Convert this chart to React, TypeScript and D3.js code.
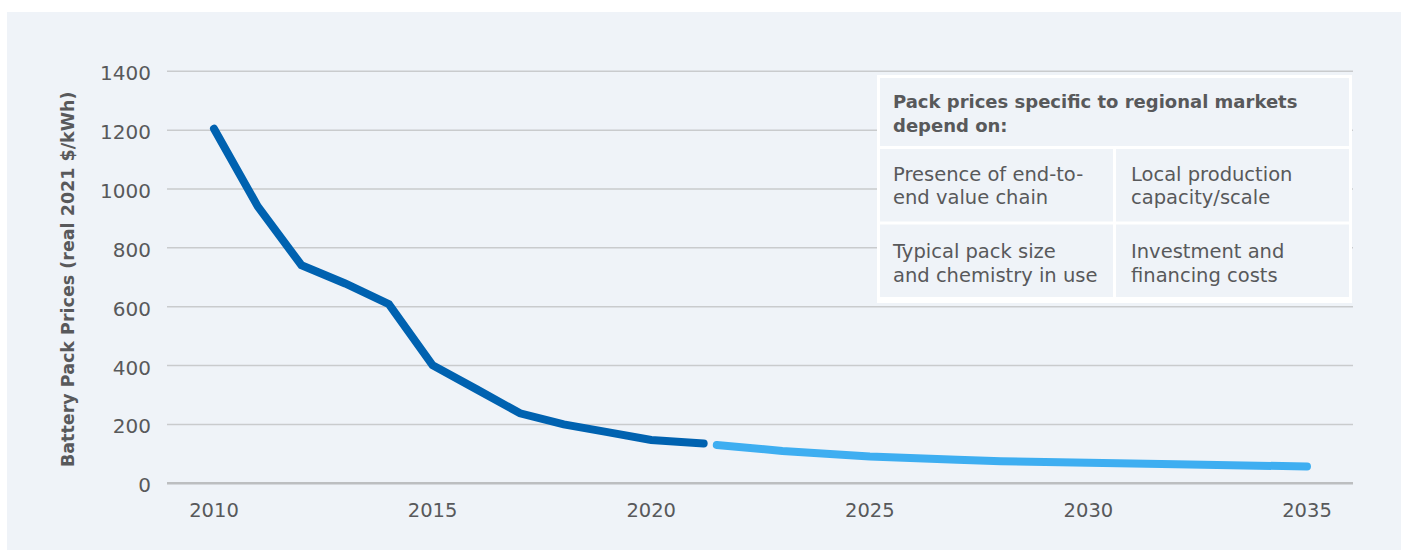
import React from "react";
import * as d3 from "d3";

const historicYears = [2010, 2011, 2012, 2013, 2014, 2015, 2016, 2017, 2018, 2019, 2020, 2021.2];
const historicPrices = [1205, 941, 741, 679, 609, 401, 320, 238, 200, 174, 147, 135];

const outlookYears = [2021.5, 2023, 2025, 2027, 2028, 2030, 2032, 2035];
const outlookPrices = [130, 110, 91, 80, 75, 70, 65, 57];

const yTicks = [0, 200, 400, 600, 800, 1000, 1200, 1400];
const xTicks = [2010, 2015, 2020, 2025, 2030, 2035];

const yTitle = "Battery Pack Prices (real 2021 $/kWh)";
const boxTitle = ["Pack prices specific to regional markets", "depend on:"];
const boxCells = [
  ["Presence of end-to-", "end value chain"],
  ["Local production", "capacity/scale"],
  ["Typical pack size", "and chemistry in use"],
  ["Investment and", "financing costs"],
];

const W = 1407;
const H = 550;
const textColor = "#58595b";
const bg = "#eff3f8";
const font = "'DejaVu Sans', sans-serif";

export default function App() {
  const x = d3.scaleLinear().domain([2010, 2035]).range([214, 1307]);
  const y = d3.scaleLinear().domain([0, 1400]).range([483.3, 71.3]);

  const line = d3
    .line<[number, number]>()
    .x((d) => x(d[0]))
    .y((d) => y(d[1]));

  const histPath = line(historicYears.map((yr, i) => [yr, historicPrices[i]]));
  const outPath = line(outlookYears.map((yr, i) => [yr, outlookPrices[i]]));

  const gridX0 = 167;
  const gridX1 = 1353;

  // box geometry
  const bx = 877, by = 75, bw = 475, bh = 228, gap = 3;
  const headH = 71;
  const rowH = (bh - headH - gap * 4) / 2;
  const colW = (bw - gap * 3) / 2;

  return (
    <svg width={W} height={H} style={{ position: "absolute", left: 0, top: 0, background: "#fff" }}>
      <rect x={7} y={12} width={1394} height={538} fill={bg} />

      {yTicks.map((t) => (
        <g key={t}>
          <line
            x1={gridX0}
            x2={gridX1}
            y1={y(t)}
            y2={y(t)}
            stroke={t === 0 ? "#bcbec0" : "#c9cbcd"}
            strokeWidth={t === 0 ? 2.5 : 1.5}
          />
          <text
            x={151}
            y={y(t) + 9}
            textAnchor="end"
            fontFamily={font}
            fontSize={20}
            fill={textColor}
          >
            {t}
          </text>
        </g>
      ))}

      {xTicks.map((t) => (
        <text
          key={t}
          x={x(t)}
          y={516.7}
          textAnchor="middle"
          fontFamily={font}
          fontSize={19.5}
          fill={textColor}
        >
          {t}
        </text>
      ))}

      <text
        transform={`translate(74, ${(y(0) + y(1400)) / 2 + 2}) rotate(-90)`}
        textAnchor="middle"
        fontFamily={font}
        fontWeight={700}
        fontSize={17.5}
        fill={textColor}
      >
        {yTitle}
      </text>

      {/* info box */}
      <g>
        <rect x={bx} y={by} width={bw} height={bh} fill="#ffffff" />
        <rect x={bx + gap} y={by + gap} width={bw - gap * 2} height={headH - gap} fill={bg} />
        {[0, 1].map((r) =>
          [0, 1].map((c) => (
            <rect
              key={`${r}-${c}`}
              x={bx + gap + c * (colW + gap)}
              y={by + headH + gap + r * (rowH + gap)}
              width={colW}
              height={rowH}
              fill={bg}
            />
          ))
        )}
        {boxTitle.map((s, i) => (
          <text
            key={s}
            x={893}
            y={107.7 + i * 24}
            fontFamily={font}
            fontWeight={700}
            fontSize={18}
            fill={textColor}
          >
            {s}
          </text>
        ))}
        {boxCells.map((cell, k) =>
          cell.map((s, i) => (
            <text
              key={`${k}-${i}`}
              x={k % 2 === 0 ? 893 : 1131}
              y={(k < 2 ? 180.7 : 258.3) + i * 23.5}
              fontFamily={font}
              fontSize={19.5}
              fill={textColor}
            >
              {s}
            </text>
          ))
        )}
      </g>

      <path
        d={histPath || ""}
        fill="none"
        stroke="#0062b0"
        strokeWidth={8}
        strokeLinecap="round"
        strokeLinejoin="miter"
      />
      <path
        d={outPath || ""}
        fill="none"
        stroke="#3eaef1"
        strokeWidth={8}
        strokeLinecap="round"
        strokeLinejoin="round"
      />
    </svg>
  );
}
